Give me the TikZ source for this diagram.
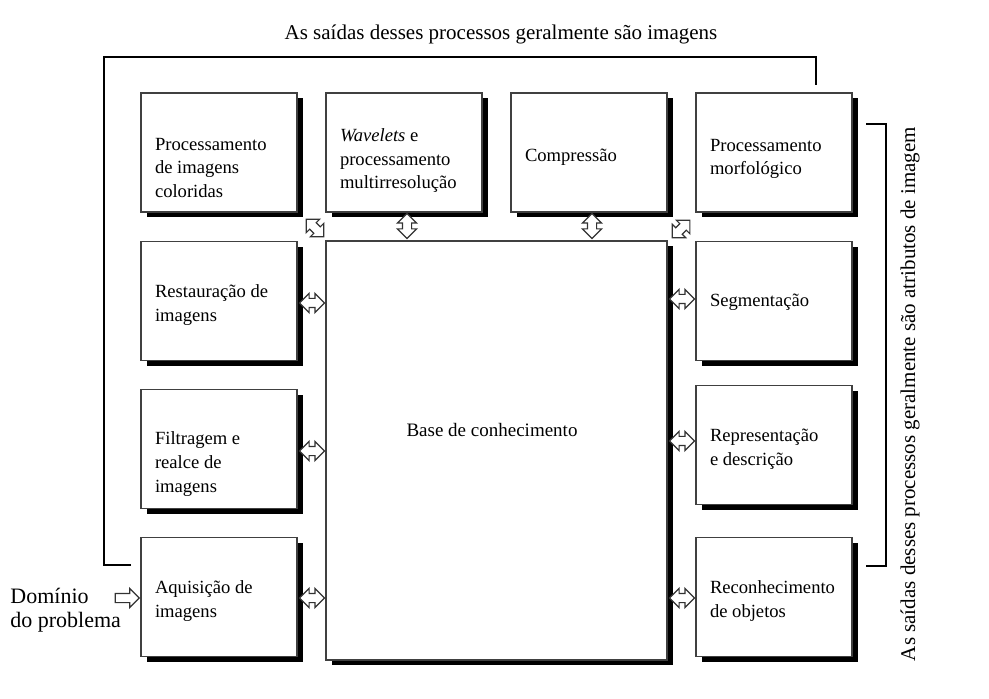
\documentclass[tikz,border=0pt]{standalone}
\usepackage{fontspec}
\setmainfont{Liberation Serif}
\usetikzlibrary{shapes.arrows,shadows}

\tikzset{
  procbox/.style={draw=black!75, line width=0.6pt, fill=white,
    minimum width=78pt, minimum height=59.5pt, text width=64pt,
    inner xsep=7pt, align=flush left, font=\fontsize{9.3}{11.8}\selectfont,
    text height=#1,
    general shadow={fill=black, shadow xshift=2.8pt, shadow yshift=-2.6pt}},
  procbox/.default=10.5pt,
  dblarrow/.style={double arrow, draw=black!80, line width=0.6pt, fill=white,
    minimum height=12.5pt, inner xsep=0pt, inner ysep=2pt,
    double arrow head extend=2.5pt},
  inarrow/.style={single arrow, draw=black!80, line width=0.6pt, fill=white,
    minimum height=12pt, inner xsep=0pt, inner ysep=2pt,
    single arrow head extend=2.5pt},
  label/.style={font=\fontsize{10.5}{12}\selectfont}
}

\begin{document}
\begin{tikzpicture}
[x=0.5pt,y=-0.5pt]
\useasboundingbox (0,0) rectangle (989,699);

% feedback lines
\coordinate (fbA) at (131,565);
\coordinate (fbB) at (816,85);
\draw[line width=0.6pt] (fbA) -| (104,57) -| (fbB);
\coordinate (brA) at (866,124);
\coordinate (brB) at (866,566);
\draw[line width=0.6pt] (brA) -| (886,566) -- (brB);

% base
\node[procbox=0pt, minimum width=170.5pt, minimum height=209.5pt, text width=156pt] (base) at (496.5,450.5) {};
\node[font=\fontsize{9.5}{12}\selectfont] (basetxt) at (492,430) {Base de conhecimento};

% top row
\node[procbox=21.5pt] (colorida) at (219,152.5) {Processamento\\de imagens\\coloridas};
\node[procbox=14.5pt] (wavelets) at (404,152.5) {\textit{Wavelets} e\\processamento\\multirresolução};
\node[procbox] (compressao) at (589,152.5) {Compressão};
\node[procbox=12.5pt] (morfologico) at (774,152.5) {Processamento\\morfológico};

% left column
\node[procbox] (restauracao) at (219,301) {Restauração de\\imagens};
\node[procbox=21.5pt] (filtragem) at (219,449) {Filtragem e\\realce de\\imagens};
\node[procbox] (aquisicao) at (219,597) {Aquisição de\\imagens};

% right column
\node[procbox=7.5pt] (segmentacao) at (774,301) {Segmentação};
\node[procbox] (representacao) at (774,445) {Representação\\e descrição};
\node[procbox] (reconhecimento) at (774,597) {Reconhecimento\\de objetos};

% arrows
\foreach \name/\x/\y/\ang in {a1/312/303/0,a2/312/451/0,a3/312/598/0,
  a4/682/299/0,a5/682/441/0,a6/682/598/0,
  a7/407/226/90,a8/592/226/90,a9/315/228/-45,a10/681/229/45}
\node[dblarrow, rotate=\ang] (\name) at (\x,\y) {};

\node[inarrow] (inp) at (125,598) {};
\node[font=\fontsize{11}{12}\selectfont, anchor=west, align=flush left, inner sep=0pt] (dominio) at (10,610) {Domínio\\do problema};

% texts
\node[label] (toptxt) at (501,34) {As saídas desses processos geralmente são imagens};
\node[label, rotate=90] (sidetxt) at (910,394) {As saídas desses processos geralmente são atributos de imagem};
\end{tikzpicture}
\end{document}
